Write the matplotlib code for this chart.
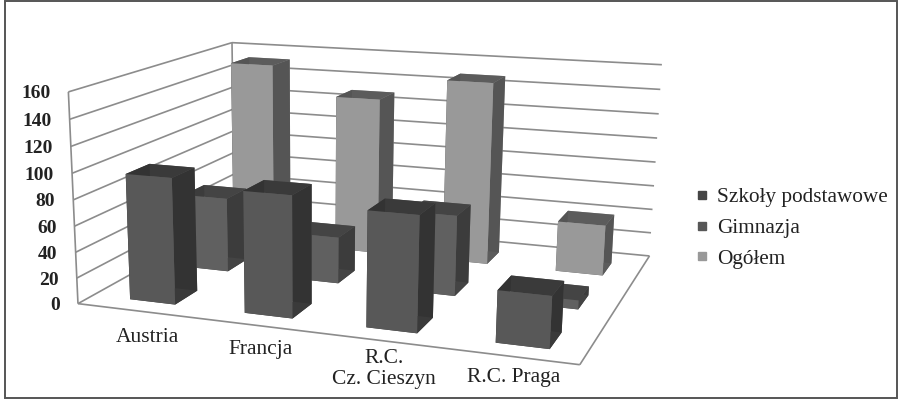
import numpy as np
import matplotlib
matplotlib.use("Agg")
import matplotlib.pyplot as plt
from matplotlib.lines import Line2D
from matplotlib.patches import Rectangle
from mpl_toolkits.mplot3d import proj3d
from mpl_toolkits.mplot3d.art3d import Line3DCollection

categories = ["Austria", "Francja", "R.C.\nCz. Cieszyn", "R.C. Praga"]
series_names = ["Szkoły podstawowe", "Gimnazja", "Ogółem"]
szkoly = [97, 92, 86, 38]
gimnazja = [60, 37, 63, 7]
ogolem = [153, 130, 149, 41]
z_ticks = [0, 20, 40, 60, 80, 100, 120, 140, 160]

# front, back, top, side
face_colors = [
    ("#585858", "#3a3a3a", "#333333"),
    ("#606060", "#444444", "#3c3c3c"),
    ("#999999", "#5c5c5c", "#555555"),
]
legend_colors = ["#454545", "#575757", "#999999"]

W, H = 898, 400
fig = plt.figure(figsize=(W / 100, H / 100), dpi=100)
ax = fig.add_axes([0, 0, 1, 1], projection="3d")
ax.set_axis_off()
ax.computed_zorder = False
ax.apply_aspect = lambda position=None: None

# where the box corners of the chart land on the image, in pixels
corners = [
    ((0, 0, 0), (80, 306)),
    ((0, 0, 160), (67, 91)),
    ((0, 3, 160), (233, 44)),
    ((0, 3, 0), (233, 214)),
    ((4, 3, 160), (662, 64)),
    ((4, 3, 0), (650, 258)),
    ((4, 0, 0), (579, 363)),
]


def fitted_proj():
    rows = []
    rhs = []
    inv = ax.transData.inverted()
    for (x, y, z), (px, py) in corners:
        u, v = inv.transform((px, H - py))
        rows.append([x, y, z, 1, 0, 0, 0, 0, -u * x, -u * y, -u * z])
        rows.append([0, 0, 0, 0, x, y, z, 1, -v * x, -v * y, -v * z])
        rhs += [u, v]
    h = np.linalg.lstsq(np.array(rows, float), np.array(rhs, float), rcond=None)[0]
    return np.array([
        h[0:4],
        h[4:8],
        [-0.05, 1, -0.001, 5],  # only used for sorting the faces
        [h[8], h[9], h[10], 1],
    ])


ax.get_proj = fitted_proj
M = fitted_proj()


def label(s, x, y, z, dx, dy, **kw):
    u, v, _ = proj3d.proj_transform(x, y, z, M)
    ax.annotate(s, (u, v), xytext=(dx, dy), textcoords="offset pixels", annotation_clip=False,
                family="Liberation Serif", color="#222222", va="center", **kw)


# walls
segs = []
for z in z_ticks:
    segs.append([(0, 0, z), (0, 3, z)])
    segs.append([(0, 3, z), (4, 3, z)])
    label(str(z), 0, 0, z, -18, -2, ha="right", fontsize=14, fontweight="bold")
segs.append([(0, 0, 0), (0, 0, 160)])
segs.append([(0, 3, 0), (0, 3, 160)])
segs.append([(0, 0, 0), (4, 0, 0)])
segs.append([(4, 0, 0), (4, 3, 0)])
walls = Line3DCollection(segs, colors="#8c8c8c", linewidths=1.2, zorder=1)
ax.add_collection3d(walls)

# bars, back row first so the front ones cover them
bar_w = 0.4
bar_d = 0.4
for j, values in enumerate([szkoly, gimnazja, ogolem]):
    front, top, side = face_colors[j]
    for i, v in enumerate(values):
        c = [top, top, front, front, side, side]
        bars = ax.bar3d(i + 0.33, j + 0.25, 0, bar_w, bar_d, v,
                        color=c, shade=False, edgecolor="none")
        bars.set_zorder(10 + (2 - j) * 10 + i)

label_offsets = [(13, -27), (9, -25), (7, -29), (4, -21)]
for i, name in enumerate(categories):
    dx, dy = label_offsets[i]
    label(name, i + 0.5, 0, 0, dx, dy, ha="center", fontsize=15.5, linespacing=1.15)

handles = [Line2D([], [], ls="none", marker="s", ms=6, color=c) for c in legend_colors]
fig.legend(handles, series_names, loc="center left", bbox_to_anchor=(0.751, 0.43), frameon=False,
           prop={"family": "Liberation Serif", "size": 15.3}, labelspacing=0.52, handlelength=0.8,
           handletextpad=0.3, labelcolor="#222222")

fig.add_artist(Rectangle((5 / W, 1 - 398 / H), 892 / W, 397 / H, transform=fig.transFigure,
                         fill=False, edgecolor="#555555", lw=1.4))

fig.savefig("out.png", dpi=100)
